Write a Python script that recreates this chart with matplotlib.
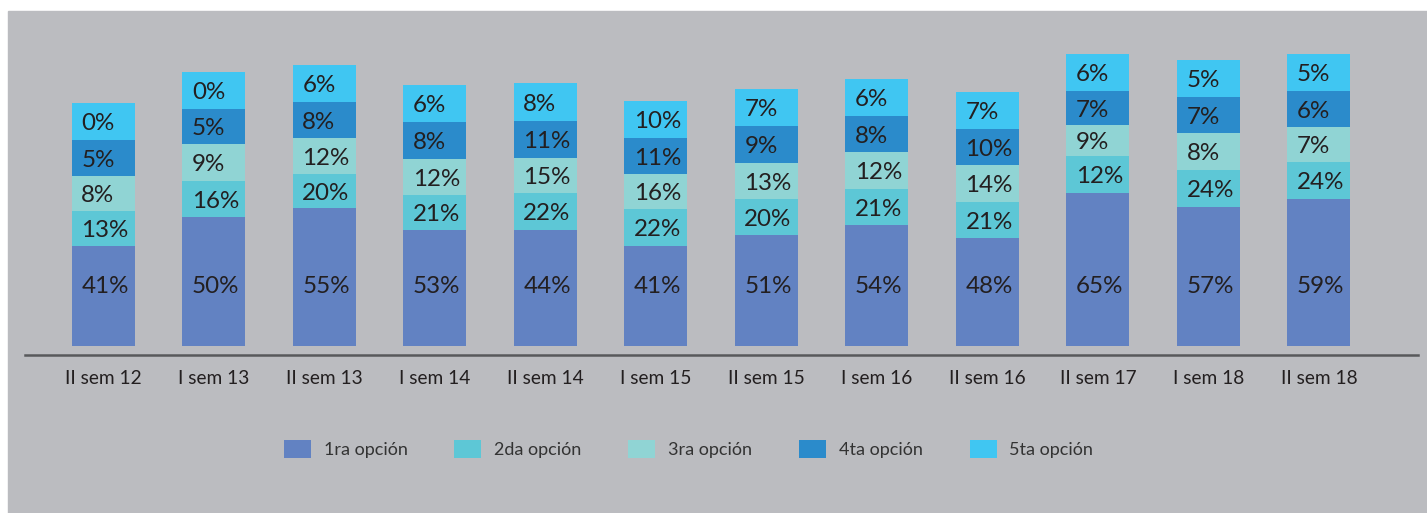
import matplotlib.pyplot as plt
from matplotlib.patches import Rectangle
import numpy as np

periodos = ["II sem 12", "I sem 13", "II sem 13", "I sem 14", "II sem 14", "I sem 15",
            "II sem 15", "I sem 16", "II sem 16", "II sem 17", "I sem 18", "II sem 18"]
opciones = ["1ra opción", "2da opción", "3ra opción", "4ta opción", "5ta opción"]

# porcentajes que se leen en cada tramo
p1 = [41, 50, 55, 53, 44, 41, 51, 54, 48, 65, 57, 59]
p2 = [13, 16, 20, 21, 22, 22, 20, 21, 21, 12, 24, 24]
p3 = [8, 9, 12, 12, 15, 16, 13, 12, 14, 9, 8, 7]
p4 = [5, 5, 8, 8, 11, 11, 9, 8, 10, 7, 7, 6]
p5 = [0, 0, 6, 6, 8, 10, 7, 6, 7, 6, 5, 5]

# altura con la que esta dibujado cada tramo (no es proporcional al %)
h1 = [100, 129, 138, 116, 116, 100, 111, 121, 108, 153, 139, 147]
h2 = [35, 36, 34, 35, 37, 37, 36, 36, 36, 37, 37, 37]
h3 = [35, 37, 36, 36, 35, 35, 36, 37, 37, 31, 37, 35]
h4 = [36, 35, 36, 37, 37, 36, 37, 36, 36, 34, 36, 36]
h5 = [37, 37, 37, 37, 38, 37, 37, 37, 37, 37, 37, 37]

colores = ["#6282c2", "#5dc7d6", "#90d4d4", "#2b8bcb", "#40c6f2"]
fondo = "#bbbcc0"
texto = "#231f20"

plt.rcParams['font.family'] = ['Lato', 'DejaVu Sans']

fig = plt.figure(figsize=(14.27, 5.13), dpi=100)
fig.patches.append(Rectangle((8 / 1427, 0), 1, 502 / 513, transform=fig.transFigure,
                             color=fondo, zorder=-1))

ax = fig.add_axes([25 / 1427, 158 / 513, 1393 / 1427, 335 / 513])
ax.set_facecolor('none')

x = np.arange(len(periodos))
w = 0.57
base = np.zeros(len(x))
for i, (hs, ps) in enumerate(zip([h1, h2, h3, h4, h5], [p1, p2, p3, p4, p5])):
    hs = np.array(hs, dtype=float)
    ax.bar(x, hs, w, bottom=base, color=colores[i], label=opciones[i])
    for j in range(len(x)):
        if i == 0:
            yc = 62
        else:
            yc = base[j] + hs[j] / 2
        ax.text(x[j] - w / 2 + 0.085, yc - 8.7, f"{ps[j]}%", ha='left', va='baseline',
                fontsize=17.4, color=texto)
    base += hs

ax.set_xlim(-0.71, 11.896)
ax.set_ylim(-9, 326)
for s in ['left', 'right', 'top']:
    ax.spines[s].set_visible(False)
ax.spines['bottom'].set_color('#58595b')
ax.spines['bottom'].set_linewidth(1.8)
ax.set_yticks([])
ax.set_xticks(x, periodos)
ax.tick_params(axis='x', length=0, pad=11, labelsize=13.75, labelcolor=texto)

handles, labels = ax.get_legend_handles_labels()
fig.legend(handles, labels, loc='center', bbox_to_anchor=(688.5 / 1427, 64 / 513), ncol=5,
           frameon=False, fontsize=13, handlelength=1.5, handleheight=1.15,
           handletextpad=0.7, columnspacing=2.6, labelcolor='#333333')

fig.savefig("out.png", dpi=100, facecolor='white')
